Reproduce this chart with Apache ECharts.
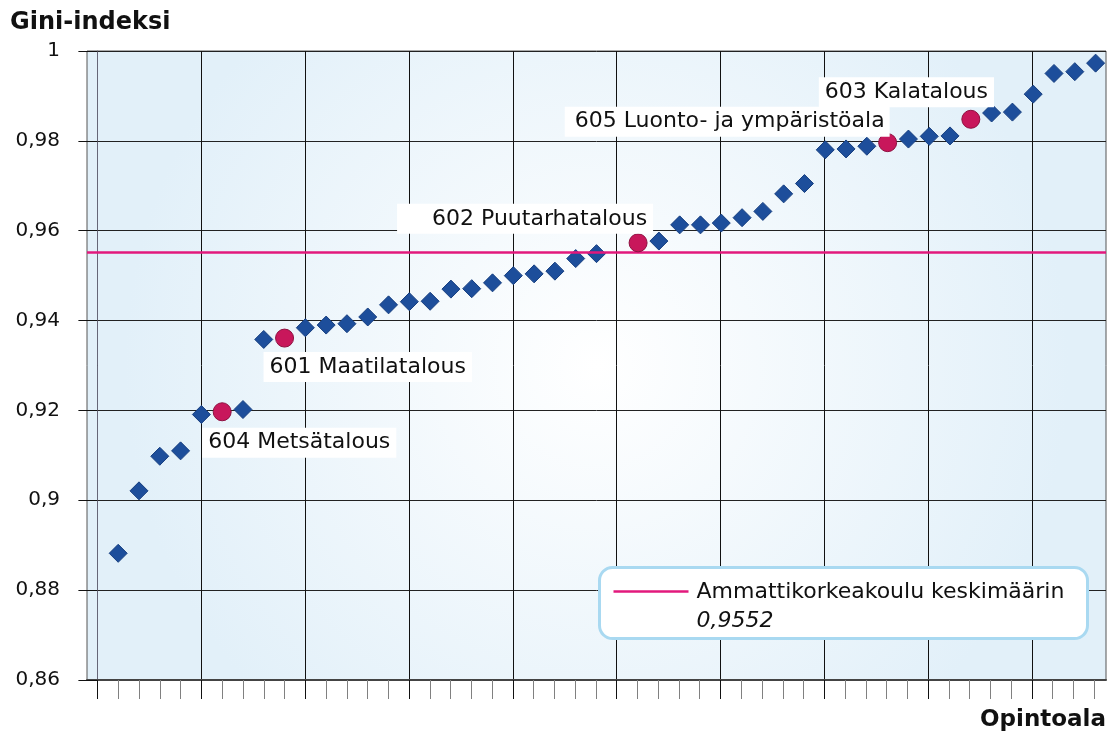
<!DOCTYPE html>
<html>
<head>
<meta charset="utf-8">
<title>Gini-indeksi opintoaloittain</title>
<script src="https://cdn.jsdelivr.net/npm/echarts@6/dist/echarts.min.js"></script>
<style>
  html, body { margin: 0; padding: 0; background: #fff; }
  #chart { width: 1117px; height: 744px; }
</style>
</head>
<body>
<div id="chart"></div>
<script>
// Gini-indeksi per opintoala, järjestyksessä (null = tyhjä paikka)
const giniValues = [
  0.8882, 0.9021, 0.9098, 0.9110, 0.9191, 0.9197, 0.9202, 0.9358, 0.9361, 0.9384,
  0.9390, 0.9393, 0.9408, 0.9435, 0.9442, 0.9443, 0.9470, 0.9471, 0.9484, 0.9500,
  0.9504, 0.9510, 0.9538, 0.9549, null,   0.9573, 0.9577, 0.9613, 0.9613, 0.9617,
  0.9629, 0.9643, 0.9682, 0.9705, 0.9780, 0.9782, 0.9788, 0.9796, 0.9804, 0.9810,
  0.9811, 0.9848, 0.9862, 0.9864, 0.9904, 0.9950, 0.9954, 0.9973
];
// korostetut alat: paikka (1..48) ja nimi
const highlightIndex = [6, 9, 26, 38, 42];
const highlightLabels = ['604 Metsätalous', '601 Maatilatalous', '602 Puutarhatalous', '605 Luonto- ja ympäristöala', '603 Kalatalous'];
const averageValue = 0.9552;
const averageName = 'Ammattikorkeakoulu keskimäärin';
const yMin = 0.86, yMax = 1, yStep = 0.02;

const FONT = '"DejaVu Sans", Verdana, sans-serif';

function fmtNum(v) {
  return String(+v.toFixed(4)).replace('.', ',');
}

// label placement for each highlighted point (style only)
const labelStyles = [
  { align: 'left',  verticalAlign: 'top',    offset: [-20, 16] },
  { align: 'left',  verticalAlign: 'top',    offset: [-21, 14] },
  { align: 'right', verticalAlign: 'bottom', offset: [15, -9], padding: [3, 6, 3, 35] },
  { align: 'right', verticalAlign: 'bottom', offset: [2, -6],  padding: [3, 5, 3, 10] },
  { align: 'left',  verticalAlign: 'top',    offset: [-152, -42] }
];

const diamondData = [];
giniValues.forEach(function (v, i) {
  const pos = i + 1;
  if (v === null || highlightIndex.indexOf(pos) >= 0) return;
  diamondData.push([pos, v]);
});

const circleData = highlightIndex.map(function (pos, k) {
  return {
    name: highlightLabels[k],
    value: [pos, giniValues[pos - 1]],
    label: labelStyles[k]
  };
});

const myChart = echarts.init(document.getElementById('chart'));

const gridTop = 51, gridBottom = 64;
const tickLeft = 97.7, tickStep = 20.76;

const option = {
  animation: false,
  textStyle: { fontFamily: FONT },
  title: [
    { text: 'Gini-indeksi', left: 10, top: 11, padding: 0,
      textStyle: { fontFamily: FONT, fontSize: 24, fontWeight: 'bold', color: '#111' } },
    { text: 'Opintoala', right: 11, top: 709, padding: 0,
      textStyle: { fontFamily: FONT, fontSize: 23, fontWeight: 'bold', color: '#111' } }
  ],
  grid: [
    // plot area with background
    { left: 87, right: 11, top: gridTop, bottom: gridBottom, show: true,
      borderColor: '#555', borderWidth: 1,
      backgroundColor: {
        type: 'radial', x: 0.5, y: 0.5, r: 0.75,
        colorStops: [{ offset: 0, color: '#ffffff' }, { offset: 1, color: '#e2f0f9' }]
      } },
    // small ticks, one per field
    { left: tickLeft, width: tickStep * 48, top: gridTop, bottom: gridBottom },
    // vertical grid lines every fifth
    { left: tickLeft, width: tickStep * 45, top: gridTop, bottom: gridBottom }
  ],
  xAxis: [
    { type: 'value', gridIndex: 0, min: -0.5, max: 48.5,
      axisLine: { show: true, lineStyle: { color: '#444', width: 2 } },
      axisTick: { show: false }, axisLabel: { show: false }, splitLine: { show: false } },
    { type: 'value', gridIndex: 1, min: 0, max: 48, interval: 1,
      axisLine: { show: false },
      axisTick: { show: true, length: 19, lineStyle: { color: '#808080', width: 1 } },
      axisLabel: { show: false }, splitLine: { show: false } },
    { type: 'value', gridIndex: 2, min: 0, max: 45, interval: 5,
      axisLine: { show: false },
      axisTick: { show: true, length: 19, lineStyle: { color: '#111', width: 1 } },
      axisLabel: { show: false },
      splitLine: { show: true, lineStyle: { color: '#111', width: 1 } } }
  ],
  yAxis: [
    { type: 'value', gridIndex: 0, min: yMin, max: yMax, interval: yStep,
      axisLine: { show: true, lineStyle: { color: '#667', width: 1 } },
      axisTick: { show: true, length: 19, lineStyle: { color: '#111' } },
      axisLabel: { margin: 27, fontSize: 20, color: '#111', fontFamily: FONT,
        formatter: function (v) { return String(+v.toFixed(2)).replace('.', ','); } },
      splitLine: { show: true, lineStyle: { color: '#222', width: 1 } } },
    { type: 'value', gridIndex: 1, min: yMin, max: yMax, show: false },
    { type: 'value', gridIndex: 2, min: yMin, max: yMax, show: false }
  ],
  series: [
    {
      name: averageName,
      type: 'line',
      xAxisIndex: 0, yAxisIndex: 0,
      data: [],
      z: 3,
      markLine: {
        silent: true,
        symbol: 'none',
        precision: 4,
        label: { show: false },
        lineStyle: { color: '#e2197c', width: 2.5, type: 'solid' },
        data: [{ yAxis: averageValue }]
      }
    },
    {
      name: 'Opintoalat',
      type: 'scatter',
      xAxisIndex: 0, yAxisIndex: 0,
      z: 4,
      symbol: 'diamond',
      symbolSize: 18,
      itemStyle: { color: '#1d4e9b', borderColor: '#173f80', borderWidth: 1, opacity: 1 },
      data: diamondData
    },
    {
      name: 'Korostetut',
      type: 'scatter',
      xAxisIndex: 0, yAxisIndex: 0,
      z: 5,
      symbol: 'circle',
      symbolSize: 18,
      itemStyle: { color: '#c8175b', borderColor: '#8e1040', borderWidth: 1, opacity: 1 },
      label: {
        show: true,
        position: 'inside',
        formatter: '{b}',
        color: '#111',
        fontFamily: FONT,
        fontSize: 22,
        lineHeight: 24,
        backgroundColor: '#ffffff',
        padding: [3, 6, 3, 6]
      },
      data: circleData
    }
  ],
  // legend box drawn by hand so the line sits next to the first text row
  graphic: [
    {
      type: 'group', left: 598, top: 566, z: 20,
      children: [
        { type: 'rect', z: 20, shape: { x: 0, y: 0, width: 488, height: 71, r: 13 },
          style: { fill: '#ffffff', stroke: '#a9d9f1', lineWidth: 3 } },
        { type: 'line', z: 21, shape: { x1: 14, y1: 24, x2: 89, y2: 24 },
          style: { stroke: '#e2197c', lineWidth: 2.5 } },
        { type: 'text', z: 21, x: 97, y: 25,
          style: { text: averageName, fill: '#111', font: '22px ' + FONT, verticalAlign: 'middle' } },
        { type: 'text', z: 21, x: 97, y: 54,
          style: { text: fmtNum(averageValue), fill: '#111', font: 'italic 22px ' + FONT, verticalAlign: 'middle' } }
      ]
    }
  ]
};

myChart.setOption(option);
</script>
</body>
</html>
